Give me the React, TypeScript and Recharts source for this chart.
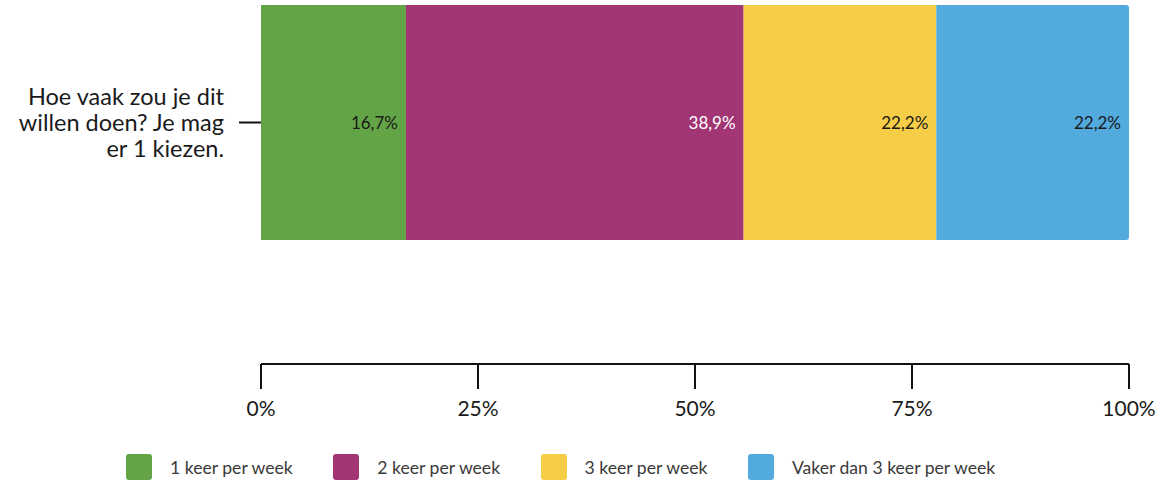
import { BarChart, Bar, XAxis, YAxis, Legend, LabelList } from "recharts"

const questions = ["Hoe vaak zou je dit willen doen? Je mag er 1 kiezen."]
const seriesNames = ["1 keer per week", "2 keer per week", "3 keer per week", "Vaker dan 3 keer per week"]
const seriesValues = [16.7, 38.9, 22.2, 22.2]
const seriesColors = ["#62a446", "#a23573", "#f6cd47", "#52aade"]
const labelColors = ["#1a1a1a", "#ffffff", "#1a1a1a", "#1a1a1a"]
const xTicks = [0, 25, 50, 75, 100]

const data = questions.map((q) => {
  const row: Record<string, string | number> = { name: q }
  seriesNames.forEach((s, i) => (row[s] = seriesValues[i]))
  return row
})

const FONT = "Lato, 'Open Sans', sans-serif"

function wrap(text: string, max: number) {
  const lines: string[] = []
  let cur = ""
  for (const w of text.split(" ")) {
    const next = cur ? cur + " " + w : w
    if (next.length > max && cur) {
      lines.push(cur)
      cur = w
    } else cur = next
  }
  if (cur) lines.push(cur)
  return lines
}

const QuestionTick = (props: any) => {
  const { x, y, payload } = props
  const lines = wrap(String(payload.value), 19)
  const lh = 26
  const start = y - ((lines.length - 1) * lh) / 2
  return (
    <text x={x} y={start} textAnchor="end" fontSize={23.5} fill="#1a1a1a" fontFamily={FONT}>
      {lines.map((l, i) => (
        <tspan key={i} x={x} y={start + i * lh} dy="0.35em">
          {l}
        </tspan>
      ))}
    </text>
  )
}

const LegendContent = () => (
  <div style={{ height: 48, paddingLeft: 126, display: "flex", alignItems: "flex-end", boxSizing: "border-box", paddingBottom: 2 }}>
    {seriesNames.map((s, i) => (
      <div key={s} style={{ width: 207.3, whiteSpace: "nowrap", display: "flex", alignItems: "center", fontFamily: FONT, fontSize: 17.6, color: "#3a3a3a" }}>
        <span style={{ width: 26, height: 26, borderRadius: 3, background: seriesColors[i], marginRight: 18, display: "inline-block", flexShrink: 0 }} />
        {s}
      </div>
    ))}
  </div>
)

export default function App() {
  return (
    <div style={{ position: "absolute", left: 0, top: 0 }}>
      <BarChart
        width={1168}
        height={482}
        data={data}
        layout="vertical"
        margin={{ top: 5, right: 39, left: 0, bottom: 0 }}
        barCategoryGap={0}
      >
        <XAxis
          type="number"
          domain={[0, 100]}
          ticks={xTicks}
          tickFormatter={(v) => v + "%"}
          height={70}
          tickSize={25}
          tickMargin={12}
          axisLine={{ stroke: "#111", strokeWidth: 2 }}
          tickLine={{ stroke: "#111", strokeWidth: 2 }}
          tick={{ fontSize: 21, fill: "#1a1a1a", fontFamily: FONT }}
          interval={0}
        />
        <YAxis
          type="category"
          dataKey="name"
          width={261}
          padding={{ top: 0, bottom: 124 }}
          axisLine={false}
          tickSize={22}
          tickMargin={15}
          tickLine={{ stroke: "#111", strokeWidth: 2 }}
          tick={<QuestionTick />}
        />
        <Legend verticalAlign="bottom" height={48} content={<LegendContent />} wrapperStyle={{ left: 0, width: 1168 }} />
        {seriesNames.map((s, i) => (
          <Bar
            key={s}
            dataKey={s}
            stackId="a"
            fill={seriesColors[i]}
            isAnimationActive={false}
            radius={i === seriesNames.length - 1 ? [0, 3, 3, 0] : 0}
          >
            <LabelList
              dataKey={s}
              position="insideRight"
              offset={8}
              formatter={(v: any) => String(v).replace(".", ",") + "%"}
              fill={labelColors[i]}
              style={{ fontSize: 17, fontFamily: FONT }}
            />
          </Bar>
        ))}
      </BarChart>
    </div>
  )
}
